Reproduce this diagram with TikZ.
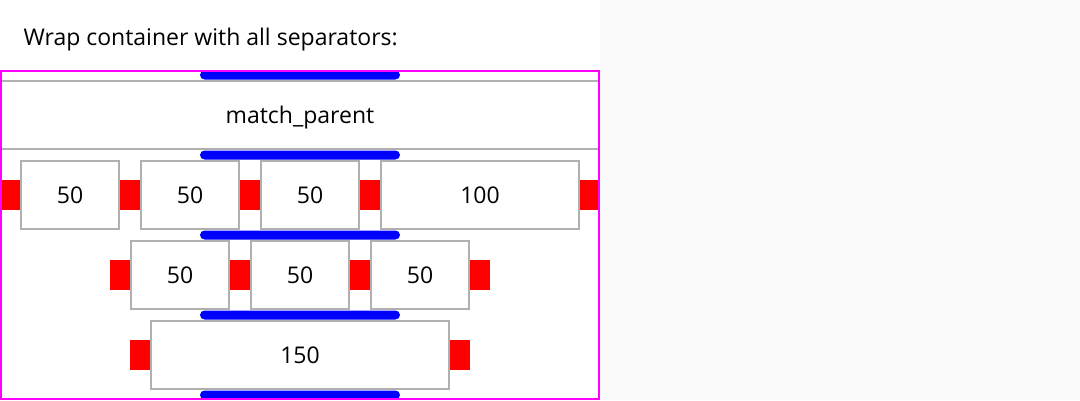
\documentclass[tikz,border=0pt]{standalone}
\usepackage{fontspec}
\setmainfont{Open Sans}
\definecolor{boxgray}{RGB}{176,176,176}
\definecolor{pagegray}{RGB}{250,250,250}
\definecolor{frame}{RGB}{255,0,255}
\tikzset{
    itembox/.style={draw=boxgray, line width=2pt, fill=white, inner sep=0pt,
        minimum height=68pt, font=\fontsize{23}{27}\selectfont},
    sepbar/.style={fill=red, inner sep=0pt, minimum width=20pt, minimum height=30pt},
    linebar/.style={fill=blue, inner sep=0pt, minimum width=200pt, minimum height=9pt,
        rounded corners=4.5pt}
}
\begin{document}
\begin{tikzpicture}[x=1pt, y=-1pt]
    \useasboundingbox (0,0) rectangle (1080,400);
    % background halves
    \fill[white] (0,0) rectangle (600,400);
    \fill[pagegray] (600,0) rectangle (1080,400);

    \node[anchor=base west, font=\fontsize{23}{27}\selectfont] (title) at (20,45)
        {Wrap container with all separators:};

    % match_parent row
    \node[itembox, minimum width=598pt, text depth=0pt] (mp) at (300,115) {match\_parent};

    % separators between items (red)
    \foreach \x [count=\i] in {10,130,250,370,590}
        \node[sepbar] (sa\i) at (\x,195) {};
    \foreach \x [count=\i] in {120,240,360,480}
        \node[sepbar] (sb\i) at (\x,275) {};
    \foreach \x [count=\i] in {140,460}
        \node[sepbar] (sc\i) at (\x,355) {};

    % items
    \foreach \x/\w/\t [count=\i] in {70/98/50,190/98/50,310/98/50,480/198/100}
        \node[itembox, minimum width=\w pt] (a\i) at (\x,195) {\t};
    \foreach \x [count=\i] in {180,300,420}
        \node[itembox, minimum width=98pt] (b\i) at (\x,275) {50};
    \node[itembox, minimum width=298pt] (c1) at (300,355) {150};

    % separators between lines (blue)
    \foreach \y [count=\i] in {75,155,235,315,395}
        \node[linebar] (l\i) at (300,\y) {};

    % container frame
    \draw[frame, line width=2pt] (1,71) rectangle (599,399);
\end{tikzpicture}
\end{document}
